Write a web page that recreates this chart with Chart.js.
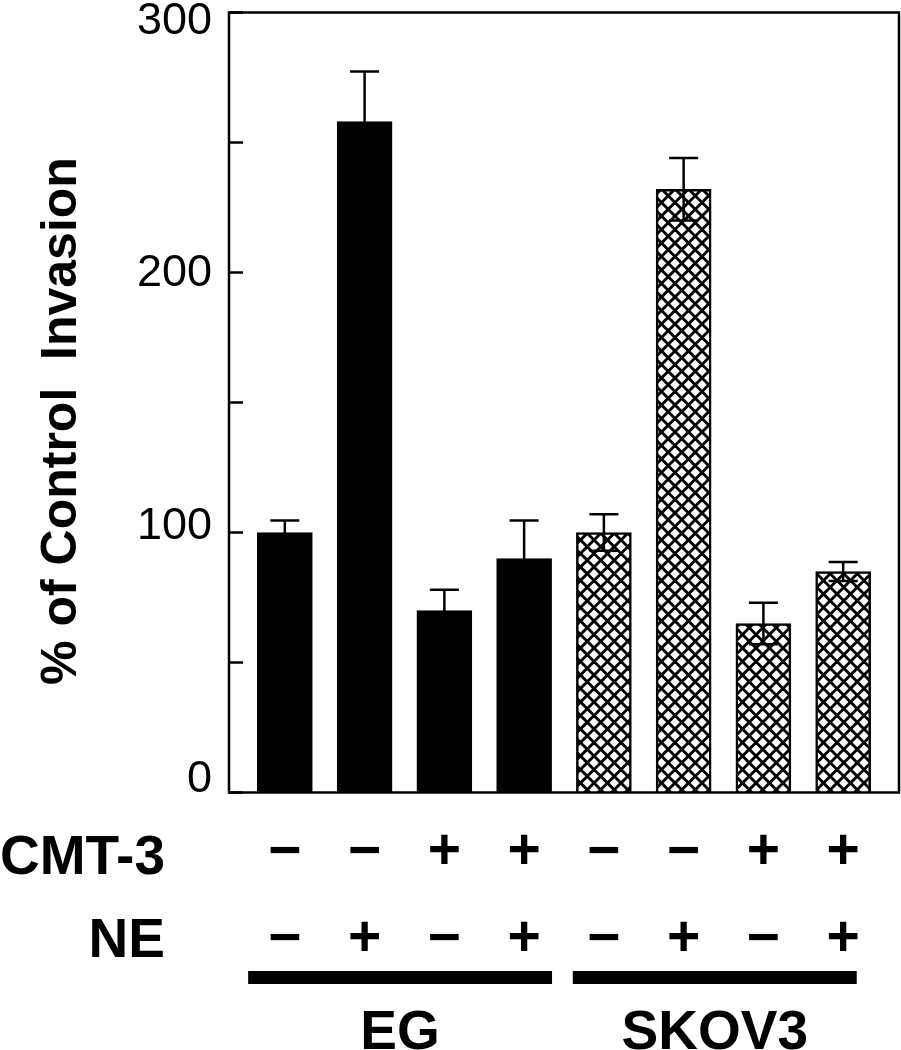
<!DOCTYPE html>
<html><head><meta charset="utf-8">
<script src="https://cdn.jsdelivr.net/npm/chart.js@4.4.1/dist/chart.umd.min.js"></script>
<style>html,body{margin:0;padding:0;background:#fff;} canvas{display:block;}</style>
</head><body>
<canvas id="c" width="901" height="1050"></canvas>
<script>
// ---- data ----
const cmt3 = ["−","−","+","+","−","−","+","+"];
const ne = ["−","+","−","+","−","+","−","+"];
const cellLines = ["EG","SKOV3"];
const cellLineOfBar = [0,0,0,0,1,1,1,1];
const invasion = [100, 258, 70, 90, 100, 232, 65, 85];
const sem = [4.6, 19.3, 8, 14.6, 7, 12, 8, 3.7];
const yTickLabels = [0, 100, 200, 300];
const yTickMarks = [0, 50, 100, 150, 200, 250, 300];
const yTitle = "% of Control  Invasion";
const rowHeaders = ["CMT-3", "NE"];

const FONT = "'Liberation Sans', Arial, Helvetica, sans-serif";

// crosshatch pattern
function makeHatch(){
  const T = 27, p = 13.5;
  const c = document.createElement('canvas'); c.width = T; c.height = T;
  const g = c.getContext('2d');
  g.fillStyle = '#fff'; g.fillRect(0,0,T,T);
  g.strokeStyle = '#000'; g.lineWidth = 2.9;
  for (let k = -3; k <= 5; k++){
    const o = k*p;
    g.beginPath(); g.moveTo(o-10, -10); g.lineTo(o+T+10, T+10); g.stroke();
    g.beginPath(); g.moveTo(o-10, T+10); g.lineTo(o+T+10, -10); g.stroke();
  }
  return g.createPattern(c, 'repeat');
}
const hatch = makeHatch();

const groupSpans = [[-0.46, 3.35], [3.61, 7.17]];

const annot = {
  id: 'annot',
  afterDatasetsDraw(chart){
    const {ctx, chartArea: a, scales: {x, y}} = chart;
    ctx.save();
    ctx.strokeStyle = '#000'; ctx.fillStyle = '#000'; ctx.lineWidth = 2.5;
    invasion.forEach((v, i) => {
      const px = x.getPixelForValue(i);
      const t = y.getPixelForValue(v + sem[i]);
      const b = y.getPixelForValue(v - sem[i]);
      ctx.beginPath();
      ctx.moveTo(px, t); ctx.lineTo(px, b);
      ctx.moveTo(px - 14.5, t); ctx.lineTo(px + 14.5, t);
      ctx.moveTo(px - 14.5, b); ctx.lineTo(px + 14.5, b);
      ctx.stroke();
    });
    ctx.strokeRect(a.left, a.top, a.right - a.left, a.bottom - a.top);
    yTickMarks.forEach(v => {
      const py = y.getPixelForValue(v);
      ctx.beginPath(); ctx.moveTo(a.left, py); ctx.lineTo(a.left + 14, py); ctx.stroke();
    });
    ctx.restore();
  },
  afterDraw(chart){
    const {ctx, chartArea: a, scales: {x}} = chart;
    ctx.save();
    ctx.fillStyle = '#000';
    // y title
    ctx.save();
    ctx.translate(76, 421);
    ctx.rotate(-Math.PI/2);
    ctx.font = "bold 50px " + FONT;
    ctx.textAlign = 'center'; ctx.textBaseline = 'alphabetic';
    ctx.fillText(yTitle, 0, 0);
    ctx.restore();
    // row headers
    ctx.font = "bold 55px " + FONT;
    ctx.textAlign = 'right'; ctx.textBaseline = 'alphabetic';
    ctx.fillText(rowHeaders[0], 165, 874);
    ctx.fillText(rowHeaders[1], 165, 957);
    // group bars and labels
    ctx.textAlign = 'center';
    groupSpans.forEach((s, gi) => {
      const x0 = x.getPixelForValue(s[0]), x1 = x.getPixelForValue(s[1]);
      ctx.fillRect(x0, 971, x1 - x0, 13);
      ctx.fillText(cellLines[gi], (x0 + x1) / 2, 1049);
    });
    ctx.restore();
  }
};

new Chart(document.getElementById('c'), {
  type: 'bar',
  data: {
    datasets: [{
      data: invasion.map((v, i) => ({x: i, y: v})),
      xAxisID: 'x', yAxisID: 'y',
      backgroundColor: cellLineOfBar.map(g => g === 0 ? '#000' : hatch),
      borderColor: '#000',
      borderWidth: 2.5,
      barThickness: 55
    }]
  },
  options: {
    responsive: false, animation: false, devicePixelRatio: 1,
    layout: {padding: {top: 12.5, right: 2, left: 0, bottom: 0}},
    plugins: {legend: {display: false}, tooltip: {enabled: false}},
    scales: {
      x: {
        type: 'linear', min: -0.7, max: 7.7, offset: false,
        grid: {display: false, drawTicks: false}, border: {display: false},
        afterBuildTicks: s => { s.ticks = cmt3.map((_, i) => ({value: i})); },
        afterFit: s => { s.height = 257.5; s.paddingLeft = 0; s.paddingRight = 0; },
        ticks: {
          autoSkip: false, maxRotation: 0, minRotation: 0, padding: 17, color: '#000',
          font: {family: FONT, size: 57, weight: 'bold', lineHeight: 87/57},
          callback: (v, i) => [cmt3[i], ne[i]]
        }
      },
      y: {type: 'linear', display: false, min: 0, max: 300},
      yLab: {
        type: 'linear', position: 'left', min: -5.1, max: 303.4,
        grid: {display: false, drawTicks: false}, border: {display: false},
        afterBuildTicks: s => { s.ticks = yTickLabels.map(v => ({value: v})); },
        afterFit: s => { s.width = 229; s.paddingTop = 0; s.paddingBottom = 0; },
        ticks: {padding: 17, color: '#000', font: {family: FONT, size: 45}, callback: v => String(v)}
      }
    }
  },
  plugins: [annot]
});
</script>
</body></html>
